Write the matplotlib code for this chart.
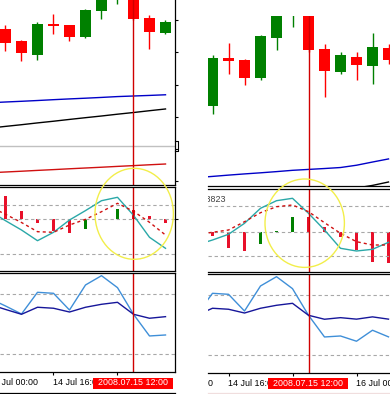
import numpy as np
import pandas as pd
import matplotlib
matplotlib.use("Agg")
import matplotlib.pyplot as plt
from matplotlib.patches import Ellipse, Rectangle

plt.rcParams["font.family"] = ["Liberation Sans", "DejaVu Sans"]

nan = np.nan

# H4 bars, 14 Jul 2008 00:00 .. 16 Jul 2008 08:00
times = pd.date_range("2008-07-14 00:00", periods=15, freq="4h")

open_ = [nan, 1.5986, 1.5967, 1.5946, 1.5994, 1.5992, 1.5974, 1.6014,
         1.6043, 1.6062, 1.6003, 1.5980, 1.5995, 1.5986, 1.6004]
high = [nan, 1.5992, 1.5969, 1.5997, 1.6009, 1.5993, 1.6017, 1.6053,
        1.6071, 1.6078, 1.6008, 1.6000, 1.6000, 1.6019, 1.6008]
low = [nan, 1.5952, 1.5936, 1.5938, 1.5978, 1.5967, 1.5972, 1.6002,
       1.6025, 1.6000, 1.5955, 1.5978, 1.5972, 1.5968, 1.5988]
close = [nan, 1.5964, 1.5949, 1.5994, 1.5991, 1.5974, 1.6016, 1.6050,
         1.6065, 1.6002, 1.5981, 1.5997, 1.5987, 1.6005, 1.5992]

ma_blue = [1.58717, 1.58729, 1.58740, 1.58752, 1.58765, 1.58777, 1.58788, 1.58800,
           1.58813, 1.58822, 1.58831, 1.58841, 1.58864, 1.58896, 1.58927]
ma_black = [1.58324, 1.58351, 1.58377, 1.58405, 1.58431, 1.58459, 1.58486, 1.58512,
            1.58540, 1.58566, 1.58594, 1.58621, 1.58636, 1.58662, 1.58696]
ma_red = [1.57632, 1.57644, 1.57656, 1.57669, 1.57681, 1.57694, 1.57706, 1.57718,
          1.57731, 1.57743, 1.57756, 1.57768, 1.57780, 1.57793, 1.57805]
hline_price = 1.5805
price_ticks = [1.575, 1.580, 1.585, 1.590, 1.595, 1.600]

# oscillator window, two versions being compared
hist_a = [nan, 23.6, 8.3, -3.7, -11.4, -13.4, -9.4, 0.5, 10.3, 9.3, 3.6, -3.7, nan, nan, nan]
main_a = [8.5, -1.4, -10.7, -21.4, -13.0, -0.7, 8.7, 18.6, 22.0, 4.0, -18.0, -29.0, nan, nan, nan]
signal_a = [12.8, 5.0, -3.2, -12.4, -13.0, -5.7, 0.0, 7.6, 16.0, 8.0, -3.0, -15.7, nan, nan, nan]
levels_a = [14.3, 0, -34.7]

hist_b = [nan, nan, 11.8, -4.3, -16.0, -19.0, -12.6, 0.7, 15.0, 14.4, 5.0, -5.0, -18.3, -30.5, -31.0]
main_b = [nan, nan, -13.3, -8.3, -2.6, 8.4, 23.4, 31.0, 33.4, 18.4, 1.7, -16.6, -19.3, -17.6, -10.6]
signal_b = [nan, nan, -3.0, -0.6, 1.7, 10.0, 19.0, 25.0, 26.7, 20.0, 9.0, -1.6, -10.0, -13.3, -13.3]
levels_b = [25.7, 0, -24.3]

# stochastic window
stoch_main = [75.8, 68.2, 60.1, 82.0, 81.0, 64.1, 89.4, 98.8, 86.7, 59.8, 37.9, 38.9, 33.6, 44.7, 38.0]
stoch_signal = [69.8, 64.7, 59.8, 66.9, 65.9, 62.1, 66.9, 69.9, 71.9, 59.8, 55.8, 57.4, 55.9, 58.2, 55.9]
stoch_levels = [20, 80]

W, H = 390, 394
fig = plt.figure(figsize=(W / 100, H / 100), dpi=100)
fig.patch.set_facecolor("white")

idx = np.arange(len(times))
cross = 9  # 2008.07.15 12:00
RED = "#ff0000"
GREEN = "#008000"
CROSS = "#d00000"
FS = 6.4


def px_axes(x0, y0, x1, y1):
    ax = fig.add_axes([x0 / W, 1 - y1 / H, (x1 - x0) / W, (y1 - y0) / H])
    for s in ax.spines.values():
        s.set_linewidth(0.9)
    ax.spines["left"].set_visible(False)
    ax.set_xticks([])
    ax.set_yticks([])
    return ax


def draw_chart(x0, x1, rows, xlim, n, hist, main, signal, levels, macd_lim, main_lim, left):
    top, main_bot, m1_top, m1_bot, m2_top, m2_bot, time_bot = rows
    x = idx[:n]

    # price window
    ax = px_axes(x0, top, x1, main_bot)
    o, h, l, c = (np.array(a)[:n] for a in (open_, high, low, close))
    col = np.where(c >= o, GREEN, RED)
    ax.vlines(x, l, h, colors=col, lw=1.0)
    ax.bar(x, np.abs(c - o), bottom=np.minimum(o, c), width=0.66, color=col, lw=0)
    ax.plot(x, ma_blue[:n], color="#0000c8", lw=1.0)
    ax.plot(x, ma_black[:n], color="black", lw=1.0)
    ax.plot(x, ma_red[:n], color="#d01010", lw=1.0)
    ax.axhline(hline_price, color="#c0c0c0", lw=1.0)
    ax.axvline(cross, color=CROSS, lw=1.0)
    ax.set_xlim(xlim)
    ax.set_ylim(main_lim)
    ax.spines["top"].set_visible(False)
    ax.spines["right"].set_visible(left)
    if left:
        ax.yaxis.tick_right()
        ax.set_yticks(price_ticks)
        ax.tick_params(axis="y", direction="out", length=2.4, width=0.8,
                       labelright=False, labelleft=False)

    # oscillator window
    ax1 = px_axes(x0, m1_top, x1, m1_bot)
    for lv in levels:
        ax1.axhline(lv, color="#a8a8a8", lw=0.8, ls=(0, (3, 2.5)))
    hs = pd.Series(hist[:n])
    bar_col = np.where(hs.diff() > 0, GREEN, "#e8102a")
    ax1.bar(x, hs, width=0.2, color=bar_col, lw=0)
    ax1.plot(x, main[:n], color="#2aa8a8", lw=1.0)
    ax1.plot(x, signal[:n], color="#d01010", lw=1.0, ls=(0, (2.2, 2.2)))
    ax1.axvline(cross, color=CROSS, lw=1.0)
    ax1.set_xlim(xlim)
    ax1.set_ylim(macd_lim)
    ax1.spines["right"].set_visible(left)
    if left:
        ax1.yaxis.tick_right()
        ax1.set_yticks([0])
        ax1.tick_params(axis="y", direction="out", length=2.4, width=0.8,
                        labelright=False, labelleft=False)

    # stochastic window
    ax2 = px_axes(x0, m2_top, x1, m2_bot)
    for lv in stoch_levels:
        ax2.axhline(lv, color="#a8a8a8", lw=0.8, ls=(0, (3, 2.5)))
    ax2.plot(x, stoch_main[:n], color="#3f8fd8", lw=1.0)
    ax2.plot(x, stoch_signal[:n], color="#16169a", lw=1.0)
    ax2.axvline(cross, color=CROSS, lw=1.0)
    ax2.set_xlim(xlim)
    ax2.set_ylim(1.2, 101.2)
    ax2.spines["right"].set_visible(left)

    # time scale
    axt = px_axes(x0, m2_bot, x1, time_bot)
    axt.set_xlim(xlim)
    axt.set_ylim(0, 1)
    for s in ("top", "right"):
        axt.spines[s].set_visible(False)
    axt.spines["bottom"].set_color("black" if left else "#f0dede")
    axt.patch.set_alpha(0)
    hpx = time_bot - m2_bot
    ticks = idx[::4]
    axt.vlines(ticks, 1 - 3 / hpx, 1, color="black", lw=0.8)
    box_l, box_r = cross - 2.53, cross + 2.47
    for i in ticks:
        if box_l < i < box_r:
            continue  # label sits fully under the cursor date box
        d = times[i]
        axt.text(i - 1 / 32, 0.5, f"{d.day} {d:%b %H:%M}", fontsize=FS,
                 ha="left", va="center", clip_on=True)
    axt.add_patch(Rectangle((box_l, 0.2), box_r - box_l, 0.54, facecolor=RED,
                            edgecolor="none", zorder=3, clip_on=True))
    axt.text(cross - 0.03, 0.48, times[cross].strftime("%Y.%m.%d %H:%M"),
             fontsize=FS, color="white", ha="center", va="center", zorder=4)
    return ax1


# left chart
draw_chart(0, 174.7, (0, 185, 187.3, 270.7, 273.3, 372.3, 392.7),
           (0.65625, 11.575), 12, hist_a, main_a, signal_a, levels_a,
           (-51.4, 32), (1.574425, 1.6031), True)

# right chart
ax1b = draw_chart(208, 390, (16, 186.3, 188.7, 272, 274.3, 373.3, 392.7),
                  (2.71875, 14.09375), 15, hist_b, main_b, signal_b, levels_b,
                  (-40.3, 43), (1.58653, 1.60358), False)
ax1b.text(18 / 182, 0.876, "0.003823", transform=ax1b.transAxes, fontsize=FS,
          color="#404040", ha="right", va="center", clip_on=True)

# overlay: highlight circles and the clipped price label
ov = fig.add_axes([0, 0, 1, 1], zorder=10)
ov.set_xlim(0, W)
ov.set_ylim(H, 0)
ov.axis("off")
ov.patch.set_alpha(0)
ov.add_patch(Ellipse((134.2, 213.8), 78.4, 91, fill=False, ec="#f2ee4a", lw=1.0))
ov.add_patch(Ellipse((304.7, 223.2), 79.4, 88.4, fill=False, ec="#f2ee4a", lw=1.0))
ov.plot([174.7, 177.6, 177.6, 174.7], [141, 141, 150.5, 150.5], color="black", lw=0.8)

fig.savefig("out.png", dpi=100)
